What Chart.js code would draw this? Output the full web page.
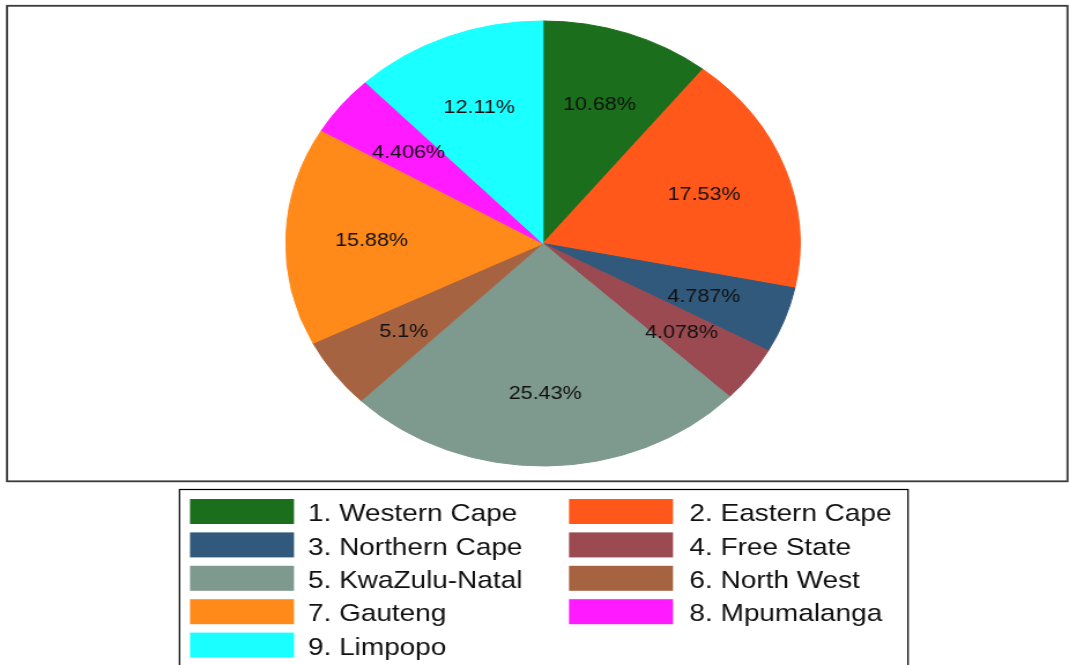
<!DOCTYPE html>
<html><head><meta charset="utf-8">
<script src="https://cdn.jsdelivr.net/npm/chart.js@4.4.1/dist/chart.umd.min.js"></script>
<style>
html,body{margin:0;padding:0;background:#fff;overflow:hidden;width:1069px;height:665px}
#wrap{position:absolute;left:0;top:0;width:925px;height:665px;transform:scaleX(1.155676);transform-origin:0 0}
canvas{display:block}
</style></head><body>
<div id="wrap"><canvas id="c" width="925" height="665"></canvas></div>
<script>
const provinces = ["1. Western Cape","2. Eastern Cape","3. Northern Cape","4. Free State","5. KwaZulu-Natal","6. North West","7. Gauteng","8. Mpumalanga","9. Limpopo"];
const shares = [10.68, 17.53, 4.787, 4.078, 25.43, 5.1, 15.88, 4.406, 12.11];
const colors = ["#1b6e1b","#ff581a","#31597c","#9a4a50","#7e998d","#a66342","#ff8a1a","#ff1aff","#1affff"];

const SX = 1069/925;
const FONT = '"Liberation Sans", Arial, sans-serif';

const framePlugin = {
  id: 'frame',
  beforeDraw(chart) {
    const ctx = chart.ctx;
    ctx.save();
    ctx.fillStyle = '#fff';
    ctx.fillRect(0, 0, chart.width, chart.height);
    ctx.strokeStyle = '#3a3a3a';
    ctx.lineWidth = 1.8;
    ctx.strokeRect(7/SX, 5.8, 1060.5/SX, 475.5);
    ctx.restore();
  },
  afterDraw(chart) {
    const ctx = chart.ctx;
    const meta = chart.getDatasetMeta(0);
    const ds = chart.data.datasets[0];
    ctx.save();
    // slice labels
    ctx.fillStyle = '#111';
    ctx.font = '18.6px ' + FONT;
    ctx.textAlign = 'center';
    ctx.textBaseline = 'middle';
    meta.data.forEach((arc, i) => {
      const p = arc.getProps(['x','y','startAngle','endAngle','outerRadius'], true);
      const a = (p.startAngle + p.endAngle) / 2;
      const r = p.outerRadius * 0.667;
      const txt = Number(ds.data[i].toPrecision(4)).toString() + '%';
      ctx.fillText(txt, p.x + Math.cos(a) * r, p.y + Math.sin(a) * r + 2);
    });
    // legend box
    ctx.strokeStyle = '#000';
    ctx.lineWidth = 1.2;
    ctx.strokeRect(179.5/SX, 489.5, (908-179.5)/SX, 200);
    ctx.font = '24.2px ' + FONT;
    ctx.textAlign = 'left';
    const colSw = [190/SX, 569/SX];
    const colTx = [308/SX, 689.5/SX];
    const swW = 104/SX;
    chart.data.labels.forEach((lab, i) => {
      const col = i % 2, row = Math.floor(i / 2);
      const y = 499 + row * 33.4;
      ctx.fillStyle = ds.backgroundColor[i];
      ctx.fillRect(colSw[col], y, swW, 25);
      ctx.fillStyle = '#111';
      ctx.fillText(lab, colTx[col], y + 15.5);
    });
    ctx.restore();
  }
};

new Chart(document.getElementById('c'), {
  type: 'pie',
  data: {
    labels: provinces,
    datasets: [{
      data: shares,
      backgroundColor: colors,
      borderColor: colors,
      borderWidth: 1
    }]
  },
  options: {
    responsive: false,
    animation: false,
    events: [],
    layout: { padding: { left: 246.8, right: 232.2, top: 20.5, bottom: 198.5 } },
    plugins: { legend: { display: false }, tooltip: { enabled: false } }
  },
  plugins: [framePlugin]
});
</script>
</body></html>
